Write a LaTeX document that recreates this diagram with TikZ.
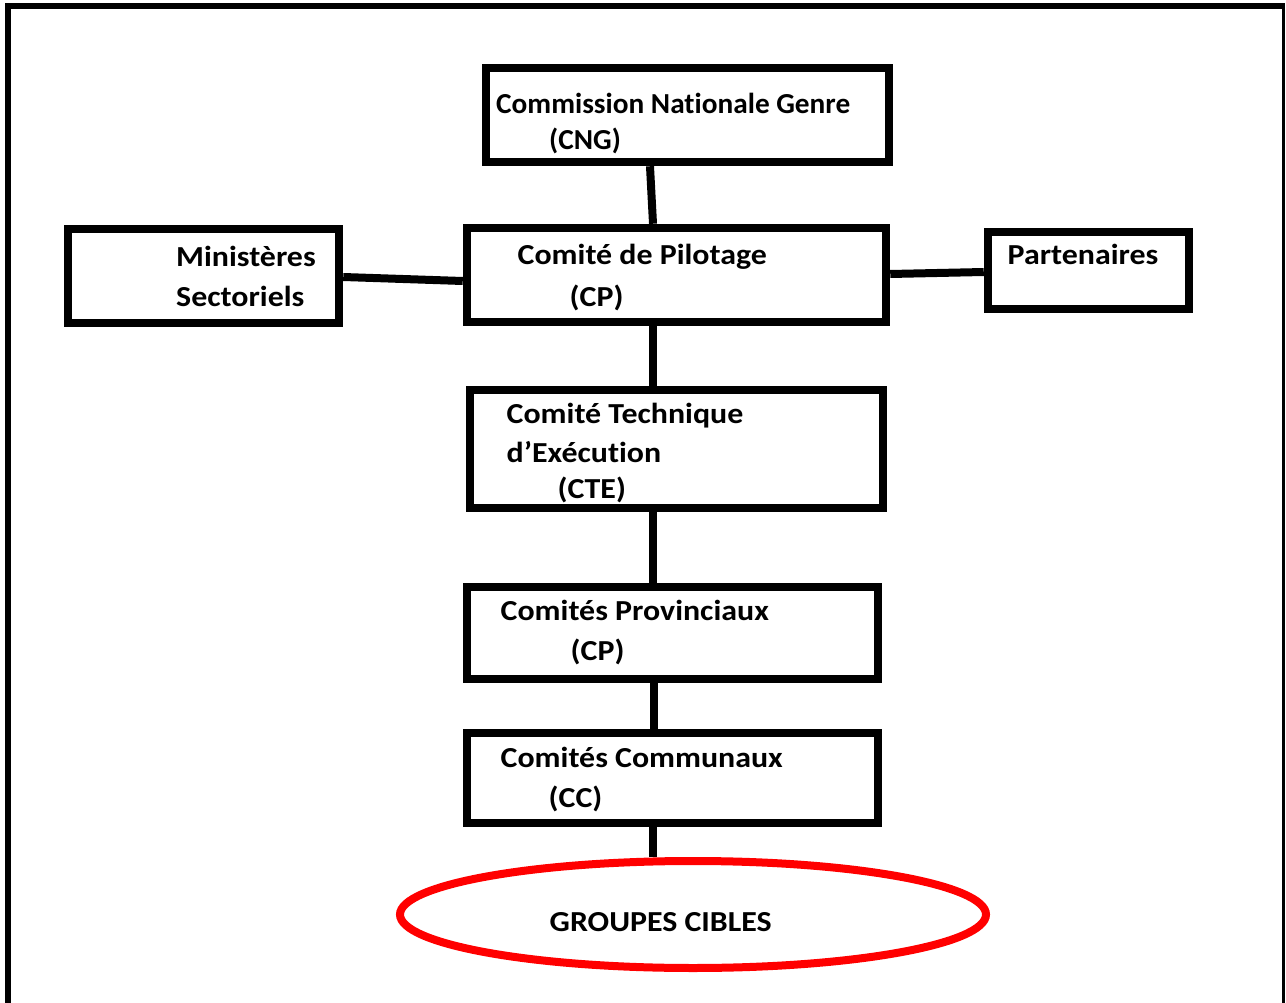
\documentclass[tikz,border=0pt]{standalone}
\usepackage{fontspec}
\setmainfont{Carlito}[FakeStretch=1.10, Ligatures=NoCommon]
\newfontfamily\cngfont{Carlito}[FakeStretch=1.01, Ligatures=NoCommon]
\usetikzlibrary{shapes.geometric}
\definecolor{pure red}{RGB}{255,0,0}
\begin{document}
\begin{tikzpicture}[x=1pt,y=-1pt,
  box/.style={draw=black, line width=8.5pt, rectangle, inner sep=0pt},
  txt/.style={anchor=base west, inner sep=0pt, font=\bfseries\fontsize{29}{34}\selectfont},
  link/.style={draw=black, line width=8pt}]
\fill[white] (0,0) rectangle (1286,1003);
\useasboundingbox (0,0) rectangle (1286,1003);
% outer frame
\draw[line width=6pt, line join=miter] (8.2,1010) -- (8.2,6.2) -- (1285,6.2);
\draw[line width=3.5pt] (1283.6,6.2) -- (1283.6,1010);
% boxes
\node[box, minimum width=403pt, minimum height=94pt] (cng) at (687.5,115) {};
\node[box, minimum width=271pt, minimum height=94pt] (min) at (203.5,276) {};
\node[box, minimum width=419pt, minimum height=94pt] (cp) at (676.5,275) {};
\node[box, minimum width=201pt, minimum height=77pt] (part) at (1088.5,270.5) {};
\node[box, minimum width=413pt, minimum height=118pt] (cte) at (676.5,449) {};
\node[box, minimum width=411pt, minimum height=92pt] (prov) at (672.5,633) {};
\node[box, minimum width=411pt, minimum height=90pt] (comm) at (672.5,778) {};
\node[draw=pure red, line width=8pt, ellipse, inner sep=0pt, minimum width=586pt, minimum height=107pt] (grp) at (693,914.5) {};
% connectors
\draw[link] ([xshift=-37.5pt]cng.south) -- ([xshift=-23.5pt]cp.north);
\draw[link] ([yshift=-1pt]min.east) -- ([yshift=-6pt]cp.west);
\draw[link] ([yshift=1pt]cp.east) -- ([yshift=-1.5pt]part.west);
\draw[link] ([xshift=-23.5pt]cp.south) -- ([xshift=-23.5pt]cte.north);
\draw[link] ([xshift=-23.5pt]cte.south) -- ([xshift=-19.5pt]prov.north);
\draw[link] ([xshift=-18.5pt]prov.south) -- ([xshift=-18.5pt]comm.north);
\draw[link] ([xshift=-19.5pt]comm.south) -- ([xshift=-40pt]grp.north);
% texts
\node[txt, font=\cngfont\bfseries\fontsize{29}{34}\selectfont] (cngA) at (496,114) {Commission Nationale Genre};
\node[txt, font=\cngfont\bfseries\fontsize{29}{34}\selectfont] (cngB) at (549,150) {(CNG)};
\node[txt] (minA) at (176,266.5) {Ministères};
\node[txt] (minB) at (176,306.5) {Sectoriels};
\node[txt] (cpA) at (517.5,265) {Comité de Pilotage};
\node[txt] (cpB) at (569.5,306) {(CP)};
\node[txt] (partA) at (1007.5,265) {Partenaires};
\node[txt] (cteA) at (506.5,423) {Comité Technique};
\node[txt] (cteB) at (506.5,462) {d’Exécution};
\node[txt] (cteC) at (557.5,498) {(CTE)};
\node[txt] (provA) at (500.5,620) {Comités Provinciaux};
\node[txt] (provB) at (570.5,660) {(CP)};
\node[txt] (commA) at (500.5,767) {Comités Communaux};
\node[txt] (commB) at (548.5,807) {(CC)};
\node[txt] (grpA) at (549.5,931) {GROUPES CIBLES};
\end{tikzpicture}
\end{document}
